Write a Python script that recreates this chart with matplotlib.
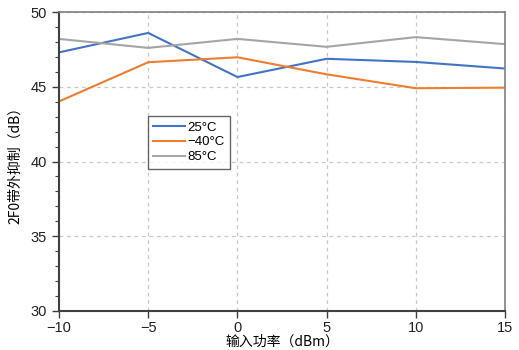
import numpy as np
import matplotlib
matplotlib.use("Agg")
import matplotlib.pyplot as plt
from matplotlib.ticker import MultipleLocator

plt.rcParams['font.family'] = ['Liberation Sans', 'Noto Sans CJK SC', 'DejaVu Sans']
plt.rcParams['axes.unicode_minus'] = True

power = [-10, -5, 0, 5, 10, 15]
t25 = [47.3, 48.6, 45.65, 46.87, 46.66, 46.22]
tm40 = [44.02, 46.64, 46.97, 45.83, 44.9, 44.94]
t85 = [48.2, 47.6, 48.2, 47.67, 48.32, 47.85]
labels = ['25°C', '−40°C', '85°C']

fig = plt.figure(figsize=(5.19, 3.5), dpi=100)
ax = fig.add_axes([59 / 519, 1 - 311 / 350, 446 / 519, 299 / 350])

ax.plot(power, t25, color='#4472C4', lw=1.5, label=labels[0])
ax.plot(power, tm40, color='#ED7D31', lw=1.5, label=labels[1])
ax.plot(power, t85, color='#A5A5A5', lw=1.5, label=labels[2])

ax.set_xlim(-10, 15)
ax.set_ylim(30, 50)
ax.xaxis.set_major_locator(MultipleLocator(5))
ax.yaxis.set_major_locator(MultipleLocator(5))
ax.yaxis.set_minor_locator(MultipleLocator(1))
ax.grid(True, which='major', color='#C8C8C8', ls=(0, (3, 3)), lw=0.9)

for s in ['left', 'bottom']:
    ax.spines[s].set_color('#404040')
    ax.spines[s].set_linewidth(1.5)
for s in ['top', 'right']:
    ax.spines[s].set_color('#808080')
    ax.spines[s].set_linewidth(1.2)

ax.tick_params(axis='both', which='major', direction='out', length=5, width=1,
               color='#404040', labelsize=10.5, labelcolor='#222222')
ax.tick_params(axis='x', which='major', pad=2)
ax.tick_params(axis='y', which='minor', direction='out', length=3, width=0.8,
               color='#404040')

ax.set_xlabel('输入功率（dBm）', fontsize=10, family=['Noto Sans CJK SC'], labelpad=0)
ax.set_ylabel('2F0带外抑制（dB）', fontsize=10, family=['Noto Sans CJK SC'], labelpad=6)

leg = ax.legend(loc='upper left', bbox_to_anchor=((148 - 59) / 446, (311 - 116) / 299),
                borderaxespad=0, frameon=True, fancybox=False, handlelength=2.4,
                handletextpad=0.2, labelspacing=0.2, borderpad=0.4,
                prop={'family': ['Liberation Sans', 'Noto Sans CJK SC'], 'size': 9.5})
leg.get_frame().set_edgecolor('#404040')
leg.get_frame().set_linewidth(1.0)

fig.savefig('out.png', dpi=100)
